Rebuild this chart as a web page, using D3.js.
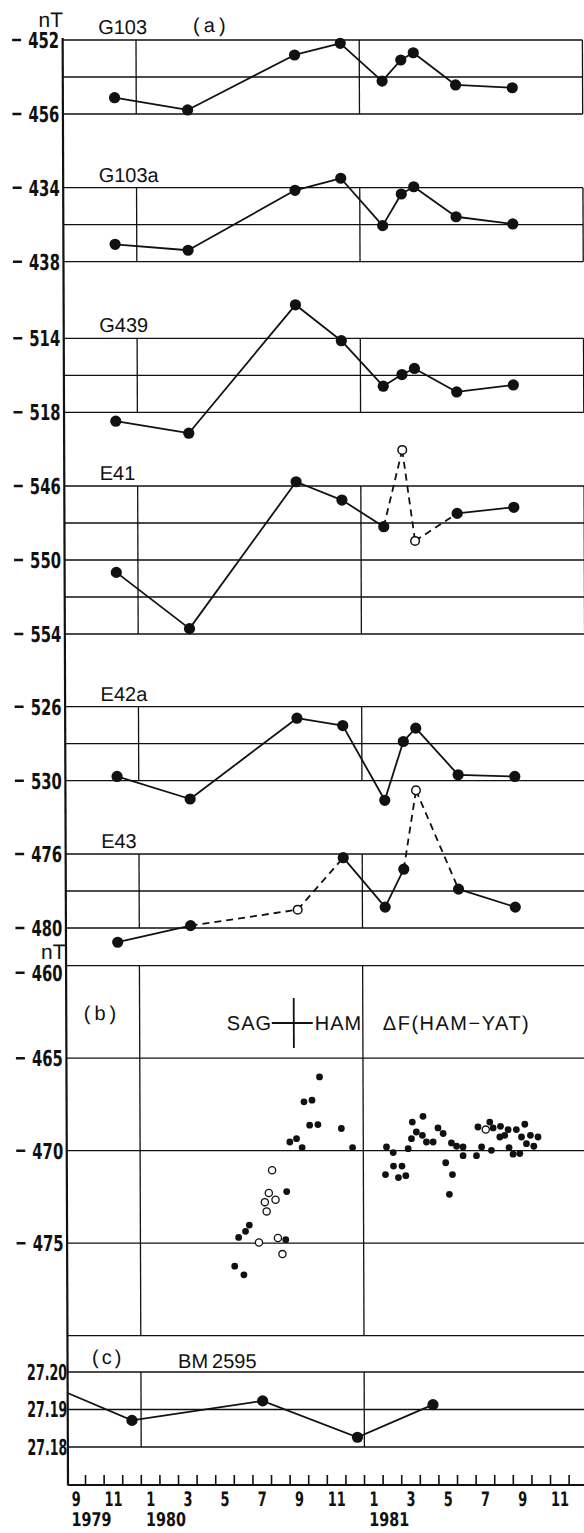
<!DOCTYPE html>
<html lang="en">
<head>
<meta charset="utf-8">
<title>Total force changes 1979-1981</title>
<script src="https://d3js.org/d3.v7.min.js"></script>
<style>
  body { margin: 0; background: #fff; }
  svg { display: block; }
  text { fill: #111; font-family: "Liberation Sans", Arial, sans-serif; font-size: 20px; }
  .num { font-family: "Liberation Sans Narrow", "DejaVu Sans Condensed", sans-serif; font-weight: bold; font-size: 22px; }
  .grid { stroke: #111; stroke-width: 1.3; fill: none; }
  .data { stroke: #111; stroke-width: 1.8; fill: none; }
</style>
</head>
<body>
<svg></svg>
<script>
// ---- data ----
// survey epochs (decimal years) of panel (a)
var epochs = [1979.903, 1980.230, 1980.710, 1980.915, 1981.102, 1981.186, 1981.242, 1981.431, 1981.685];

var stationNames = ["G103", "G103a", "G439", "E41", "E42a", "E43"];
var g103  = [455.12, 455.78, 452.81, 452.18, 454.22, 453.08, 452.69, 454.43, 454.58];
var g103a = [437.06, 437.38, 434.14, 433.49, 436.05, 434.34, 433.95, 435.57, 435.96];
var g439  = [518.48, 519.13, 512.19, 514.13, 516.59, 515.96, 515.63, 516.90, 516.52];
var e41   = [550.67, 553.71, 545.77, 546.76, 548.20, 544.05, 548.97, 547.48, 547.15];
var e42a  = [529.77, 530.99, 526.62, 527.02, 531.06, 527.88, 527.16, 529.68, 529.77];
var e43   = [480.77, 479.87, 479.01, 476.20, 478.87, 476.82, 472.56, 477.90, 478.87];
var stationValues = [g103, g103a, g439, e41, e42a, e43];
// open (questionable) observations, index into epochs
var stationOpen = [[], [], [], [5, 6], [], [2, 6]];
// value range of each box (top, bottom) and labelled values
var stationRanges = [[452, 456], [434, 438], [514, 518], [546, 554], [526, 530], [476, 480]];
var stationTicks = [[452, 456], [434, 438], [514, 518], [546, 550, 554], [526, 530], [476, 480]];

// panel (b): dF(HAM-YAT)
var dfFilledYears = [1980.656, 1980.488, 1980.471, 1980.440, 1980.651, 1980.422, 1980.463,
  1980.805, 1980.735, 1980.771, 1980.760, 1980.797, 1980.902, 1980.671, 1980.701, 1980.726, 1980.952,
  1981.104, 1981.134, 1981.201, 1981.216, 1981.220, 1981.238, 1981.268, 1981.265, 1981.283, 1981.313,
  1981.335, 1981.358, 1981.395, 1981.418, 1981.447, 1981.447, 1981.507, 1981.530, 1981.514, 1981.567,
  1981.582, 1981.615, 1981.612, 1981.634, 1981.649, 1981.686, 1981.724, 1981.709, 1981.749, 1981.783,
  1981.731, 1981.764, 1981.574, 1981.653, 1981.671, 1981.701, 1981.135, 1981.173, 1981.099, 1981.157,
  1981.190, 1981.369, 1981.399, 1981.385];
var dfFilledValues = [472.21, 474.02, 474.36, 474.69, 474.81, 476.24, 476.71,
  466.01, 467.36, 467.27, 468.62, 468.59, 468.80, 469.53, 469.35, 469.83, 469.83,
  469.80, 470.10, 469.89, 469.35, 468.45, 468.99, 468.14, 469.17, 469.53, 469.53,
  468.77, 469.07, 469.58, 469.76, 469.80, 470.27, 470.27, 469.80, 468.72, 468.45,
  468.77, 468.68, 469.26, 469.17, 468.86, 468.86, 468.57, 469.26, 469.17, 469.26,
  469.62, 469.76, 469.98, 469.83, 470.19, 470.15, 470.83, 470.83, 471.29, 471.45,
  471.35, 470.65, 471.29, 472.36];
var dfOpenYears  = [1980.591, 1980.576, 1980.606, 1980.558, 1980.566, 1980.531, 1980.616, 1980.636, 1981.549];
var dfOpenValues = [471.06, 472.29, 472.65, 472.78, 473.28, 474.96, 474.72, 475.59, 468.86];
var dfRange = [460, 480];
var dfTicks = [460, 465, 470, 475];

// panel (c): BM2595 height
var bmYears  = [1979.671, 1979.959, 1980.545, 1980.969, 1981.308];
var bmValues = [27.1944, 27.1871, 27.1923, 27.1826, 27.1913];
var bmMarked = [false, true, true, true, true];
var bmRange = [27.21, 27.17];
var bmTicks = [27.20, 27.19, 27.18];

var monthLabels = ["9", "11", "1", "3", "5", "7", "9", "11", "1", "3", "5", "7", "9", "11"];
var yearLabels = ["1979", "1980", "1981"];

// ---- layout ----
var W = 584, H = 1533;
var pxPerNT = 18.5;
var boxTops = [40, 187.7, 338.3, 486, 706.7, 854];
var bTop = 965.7, cTop = 1334.5, axisY = 1485;

var svg = d3.select("svg").attr("width", W).attr("height", H);
// the scanned figure leans slightly to the right
var g = svg.append("g").attr("transform", "skewX(0.212)");

var x = d3.scaleLinear().domain([1980, 1981]).range([135.85, 359.05]);
var xLeft = 62.5, xRight = x(1982);

function hline(y, x0, x1) {
  return g.append("line").attr("class", "grid")
    .attr("x1", x0 == null ? xLeft : x0).attr("x2", x1 == null ? xRight : x1)
    .attr("y1", y).attr("y2", y);
}
function vline(xx, y0, y1, w) {
  return g.append("line").attr("class", "grid").attr("x1", xx).attr("x2", xx)
    .attr("y1", y0).attr("y2", y1).style("stroke-width", w || 1.3);
}
// condensed bold numbers, squeezed to the width seen in the scan
function numText(xx, y, txt, anchor, len) {
  return g.append("text").attr("class", "num").attr("x", xx).attr("y", y)
    .attr("text-anchor", anchor).attr("textLength", len)
    .attr("lengthAdjust", "spacingAndGlyphs").text(txt);
}
function tickLabel(y, txt) {
  g.append("line").attr("x1", 12).attr("x2", 21).attr("y1", y).attr("y2", y)
    .style("stroke", "#111").style("stroke-width", 2.4);
  numText(28, y + 8, txt, "start", 31);
}

// ---- panel (a) ----
stationNames.forEach(function(name, i) {
  var r = stationRanges[i];
  var y = d3.scaleLinear().domain(r).range([boxTops[i], boxTops[i] + (r[1] - r[0]) * pxPerNT]);
  d3.range(r[0], r[1] + 0.01, 2).forEach(function(v) { hline(y(v)); });
  [1980, 1981].forEach(function(yr) { vline(x(yr), y(r[0]), y(r[1])); });
  vline(xRight, y(r[0]), y(r[1]));
  stationTicks[i].forEach(function(v) { tickLabel(y(v), v); });
  g.append("text").attr("x", 98).attr("y", boxTops[i] - 6).text(name);

  var vals = stationValues[i], open = stationOpen[i];
  var pts = epochs.map(function(e, k) { return {t: e, v: vals[k], open: open.indexOf(k) >= 0}; });
  var segs = d3.pairs(pts);
  g.selectAll(null).data(segs).enter().append("line").attr("class", "data")
    .attr("x1", function(d) { return x(d[0].t); }).attr("y1", function(d) { return y(d[0].v); })
    .attr("x2", function(d) { return x(d[1].t); }).attr("y2", function(d) { return y(d[1].v); })
    .attr("stroke-dasharray", function(d) { return (d[0].open || d[1].open) ? "7,5" : null; });
  g.selectAll(null).data(pts).enter().append("circle")
    .attr("cx", function(d) { return x(d.t); }).attr("cy", function(d) { return y(d.v); })
    .attr("r", function(d) { return d.open ? 4.3 : 5.6; })
    .style("fill", function(d) { return d.open ? "#fff" : "#111"; })
    .style("stroke", "#111").style("stroke-width", function(d) { return d.open ? 1.5 : 0; });
});
g.append("text").attr("x", 63).attr("y", 27).attr("text-anchor", "end").style("font-size", "21px").text("nT");
g.append("text").attr("x", 193).attr("y", 32).style("letter-spacing", "4px").text("(a)");

// ---- panel (b) ----
var yb = d3.scaleLinear().domain(dfRange).range([bTop, bTop + (dfRange[1] - dfRange[0]) * pxPerNT]);
d3.range(dfRange[0], dfRange[1] + 0.01, 5).forEach(function(v) { hline(yb(v)); });
[1980, 1981].forEach(function(yr) { vline(x(yr), yb(dfRange[0]), yb(dfRange[1])); });
dfTicks.forEach(function(v, i) { tickLabel(yb(v) + (i === 0 ? 7 : 0), v); });
g.append("text").attr("x", 62).attr("y", 959).attr("text-anchor", "end").style("font-size", "21px").text("nT");
g.append("text").attr("x", 80).attr("y", 1020).style("letter-spacing", "4px").text("(b)");
g.append("text").attr("x", 223).attr("y", 1030).style("letter-spacing", "1px").text("SAG");
g.append("line").attr("class", "data").attr("x1", 268).attr("x2", 309).attr("y1", 1023).attr("y2", 1023);
g.append("line").attr("class", "data").attr("x1", 290).attr("x2", 290).attr("y1", 998).attr("y2", 1048);
g.append("text").attr("x", 311).attr("y", 1030).style("letter-spacing", "1px").text("HAM");
g.append("text").attr("x", 379).attr("y", 1030).style("letter-spacing", "1.5px").text("\u0394F(HAM\u2212YAT)");

g.selectAll(null).data(dfFilledYears).enter().append("circle")
  .attr("cx", function(d) { return x(d); })
  .attr("cy", function(d, i) { return yb(dfFilledValues[i]); })
  .attr("r", 3.4).style("fill", "#111");
g.selectAll(null).data(dfOpenYears).enter().append("circle")
  .attr("cx", function(d) { return x(d); })
  .attr("cy", function(d, i) { return yb(dfOpenValues[i]); })
  .attr("r", 3.6).style("fill", "#fff").style("stroke", "#111").style("stroke-width", 1.3);

// ---- panel (c) ----
var yc = d3.scaleLinear().domain(bmRange).range([cTop, cTop + 150]);
bmTicks.forEach(function(v) { hline(yc(v)); });
[1980, 1981].forEach(function(yr) { vline(x(yr), yc(bmTicks[0]), yc(bmTicks[2])); });
bmTicks.forEach(function(v) { numText(62, yc(v) + 8, v.toFixed(2), "end", 40); });
g.append("text").attr("x", 87).attr("y", 1364).style("letter-spacing", "3px").text("(c)");
g.append("text").attr("x", 173).attr("y", 1368).text("BM\u20092595");
var bmPts = bmYears.map(function(t, i) { return {t: t, v: bmValues[i], m: bmMarked[i]}; });
g.append("path").attr("class", "data")
  .attr("d", d3.line().x(function(d) { return x(d.t); }).y(function(d) { return yc(d.v); })(bmPts));
g.selectAll(null).data(bmPts.filter(function(d) { return d.m; })).enter().append("circle")
  .attr("cx", function(d) { return x(d.t); }).attr("cy", function(d) { return yc(d.v); })
  .attr("r", 5.6).style("fill", "#111");

// ---- axes ----
vline(xLeft, 38, axisY + 0.5, 2.2);
hline(axisY, xLeft, xRight).style("stroke-width", 2);
var monthTicks = d3.range(-3, 24).map(function(m) { return 1980 + m / 12; });
g.selectAll(null).data(monthTicks).enter().append("line")
  .attr("x1", function(d) { return x(d); }).attr("x2", function(d) { return x(d); })
  .attr("y1", axisY - 10).attr("y2", axisY)
  .style("stroke", "#111").style("stroke-width", 1.6);
monthLabels.forEach(function(m, i) {
  numText(x(1980 + (-3.5 + 2 * i) / 12), 1506, m, "middle", m.length * 9)
    .style("font-size", "20px");
});
var yearStarts = [1979 + 8 / 12, 1980, 1981];
yearLabels.forEach(function(yl, i) {
  numText(x(yearStarts[i]) + 4.5, 1526, yl, "start", 40).style("font-size", "19px");
});
</script>
</body>
</html>
